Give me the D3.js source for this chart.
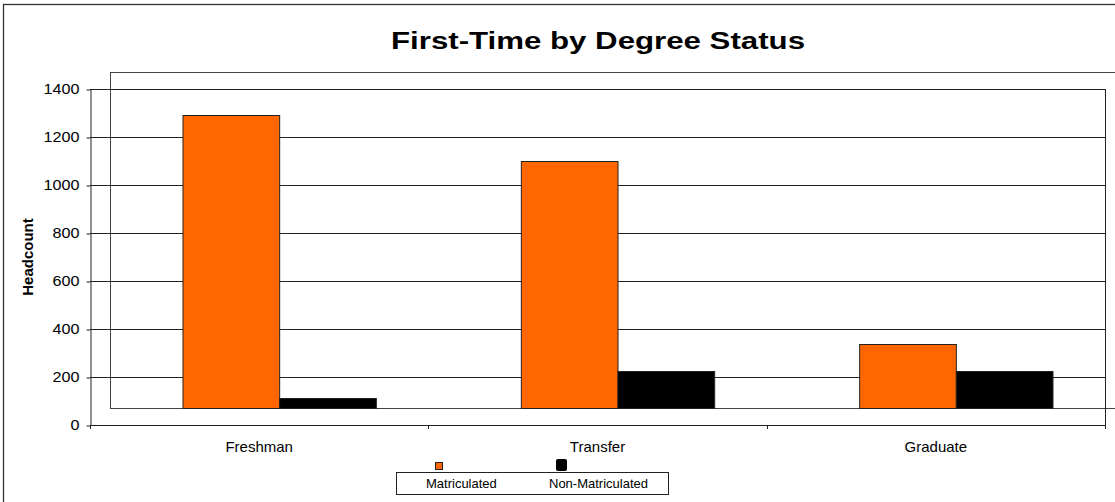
<!DOCTYPE html>
<meta charset="utf-8">
<style>
body { margin: 0; background: #fff; }
text { font-family: Arial, "Liberation Sans", sans-serif; fill: #000; }
.title { font-weight: bold; font-size: 23px; }
.ylab { font-weight: bold; font-size: 15px; }
.tick text { font-size: 14px; }
.cat { font-size: 15px; }
.leg { font-size: 13px; }
</style>
<svg width="1115" height="502"></svg>
<script src="https://d3js.org/d3.v7.min.js"></script>
<script>

var categories = ["Freshman", "Transfer", "Graduate"];
var series = ["Matriculated", "Non-Matriculated"];
var matriculated = [1290, 1100, 337];
var nonMatriculated = [113, 224, 226];
var yTicks = [0, 200, 400, 600, 800, 1000, 1200, 1400];
var colors = ["#ff6600", "#000000"];

var svg = d3.select("svg");

// outer chart border (runs off the picture on right and bottom)
svg.append("rect")
    .attr("x", 3.5).attr("y", 4.5)
    .attr("width", 1130).attr("height", 520)
    .attr("fill", "none").attr("stroke", "#333").attr("stroke-width", 1.3);

var pLeft = 90, pRight = 1105, pTop = 89, pBottom = 425;
var dx = 20, dy = 17.5; // back wall offset

var x = d3.scaleBand().domain(categories).range([pLeft, pRight]);
var xs = d3.scaleBand().domain(series).range([0, x.bandwidth()]).paddingOuter(0.75);
var y = d3.scaleLinear().domain([0, 1400]).range([pBottom, pTop]);

// back wall
svg.append("rect")
    .attr("x", pLeft + dx + 0.5).attr("y", Math.round(pTop - dy) + 0.5)
    .attr("width", pRight - pLeft + 20).attr("height", pBottom - pTop)
    .attr("fill", "none").attr("stroke", "#444");

// gridlines
svg.append("g").selectAll("line")
    .data(yTicks)
  .join("line")
    .attr("x1", pLeft).attr("x2", pRight)
    .attr("y1", function(d) { return Math.round(y(d)) + 0.5; })
    .attr("y2", function(d) { return Math.round(y(d)) + 0.5; })
    .attr("stroke", "#222");

// bars
var rows = categories.map(function(c, i) {
  return { cat: c, values: [matriculated[i], nonMatriculated[i]] };
});

svg.append("g").selectAll("g")
    .data(rows)
  .join("g")
    .attr("transform", function(d) { return "translate(" + (x(d.cat) + dx) + ",0)"; })
  .selectAll("rect")
    .data(function(d) { return d.values.map(function(v, j) { return { s: series[j], v: v, j: j }; }); })
  .join("rect")
    .attr("x", function(d) { return xs(d.s) + 0.5; })
    .attr("y", function(d) { return Math.round(y(d.v)) + 0.5; })
    .attr("width", xs.bandwidth())
    .attr("height", function(d) { return Math.round(y(0) - dy) - Math.round(y(d.v)); })
    .attr("fill", function(d) { return colors[d.j]; })
    .attr("stroke", "#222");

// y axis
var yAxis = svg.append("g")
    .attr("transform", "translate(" + (pLeft + 0.5) + ",0.5)")
    .call(d3.axisLeft(y).tickValues(yTicks).tickFormat(d3.format("d"))
      .tickSize(4).tickPadding(7).tickSizeOuter(0));
yAxis.select(".domain").attr("stroke", "#222");
yAxis.selectAll(".tick line").attr("stroke", "#222");
// the original labels are drawn a little wide
yAxis.selectAll(".tick text")
    .attr("font-family", null).attr("font-size", null)
    .attr("textLength", function(d) { return String(d).length * 9; })
    .attr("lengthAdjust", "spacingAndGlyphs");

// right edge of front frame
svg.append("line")
    .attr("x1", pRight + 0.5).attr("x2", pRight + 0.5)
    .attr("y1", pTop).attr("y2", pBottom + 4)
    .attr("stroke", "#222");

// x ticks between categories
svg.append("g").selectAll("line")
    .data(d3.range(categories.length + 1))
  .join("line")
    .attr("x1", function(i) { return Math.round(pLeft + i * x.step()) + 0.5; })
    .attr("x2", function(i) { return Math.round(pLeft + i * x.step()) + 0.5; })
    .attr("y1", pBottom).attr("y2", pBottom + 4)
    .attr("stroke", "#222");

// category labels
svg.append("g").selectAll("text")
    .data(categories)
  .join("text")
    .attr("class", "cat")
    .attr("x", function(d) { return x(d) + x.bandwidth() / 2; })
    .attr("y", 452)
    .attr("text-anchor", "middle")
    .text(function(d) { return d; });

// title (stretched wide like the original)
svg.append("text")
    .attr("class", "title")
    .attr("x", 391).attr("y", 49)
    .attr("textLength", 414)
    .attr("lengthAdjust", "spacingAndGlyphs")
    .text("First-Time by Degree Status");

// y label
svg.append("text")
    .attr("class", "ylab")
    .attr("transform", "translate(33,257) rotate(-90)")
    .attr("text-anchor", "middle")
    .text("Headcount");

// legend (as in the original, the keys sit above the box)
svg.append("rect")
    .attr("x", 396.5).attr("y", 472.5)
    .attr("width", 272).attr("height", 22)
    .attr("fill", "#fff").attr("stroke", "#222");

var legX = [426, 549];
svg.append("rect")
    .attr("x", 435.5).attr("y", 462.5).attr("width", 7).attr("height", 7)
    .attr("fill", colors[0]).attr("stroke", "#222");
svg.append("rect")
    .attr("x", 556).attr("y", 459).attr("width", 11).attr("height", 12)
    .attr("rx", 2).attr("fill", colors[1]);

svg.append("g").selectAll("text")
    .data(series)
  .join("text")
    .attr("class", "leg")
    .attr("x", function(d, i) { return legX[i]; })
    .attr("y", 488)
    .text(function(d) { return d; });

</script>
